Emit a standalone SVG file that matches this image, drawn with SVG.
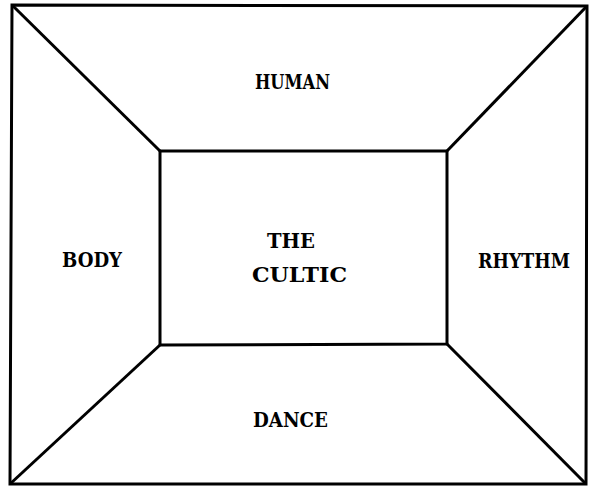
<svg xmlns="http://www.w3.org/2000/svg" width="589" height="487" viewBox="0 0 589 487">
<style>
.ln{stroke:#000;stroke-width:3;fill:none;stroke-linejoin:miter}
.t{font-family:"DejaVu Serif","Liberation Serif",serif;font-weight:bold;font-size:21px;fill:#000;text-anchor:start}
</style>
<rect width="589" height="487" fill="#fff"/>
<g id="connectors">
<polygon class="ln" points="12,5 587,6 586,484 10,484"/>
<polygon class="ln" points="160,151 447,151 447,344 160,345"/>
<line class="ln" x1="12" y1="5" x2="160" y2="151"/>
<line class="ln" x1="587" y1="6" x2="447" y2="151"/>
<line class="ln" x1="10" y1="484" x2="160" y2="345"/>
<line class="ln" x1="586" y1="484" x2="447" y2="344"/>
</g>
<g id="human"><text class="t" x="255" y="89" textLength="75" lengthAdjust="spacingAndGlyphs">HUMAN</text></g>
<g id="body"><text class="t" x="62" y="267" textLength="60" lengthAdjust="spacingAndGlyphs">BODY</text></g>
<g id="the-cultic"><text class="t" x="267" y="248" textLength="48" lengthAdjust="spacingAndGlyphs">THE</text><text class="t" x="252" y="282" textLength="95" lengthAdjust="spacingAndGlyphs">CULTIC</text></g>
<g id="rhythm"><text class="t" x="478" y="268" textLength="92" lengthAdjust="spacingAndGlyphs">RHYTHM</text></g>
<g id="dance"><text class="t" x="253" y="427" textLength="75" lengthAdjust="spacingAndGlyphs">DANCE</text></g>
</svg>
